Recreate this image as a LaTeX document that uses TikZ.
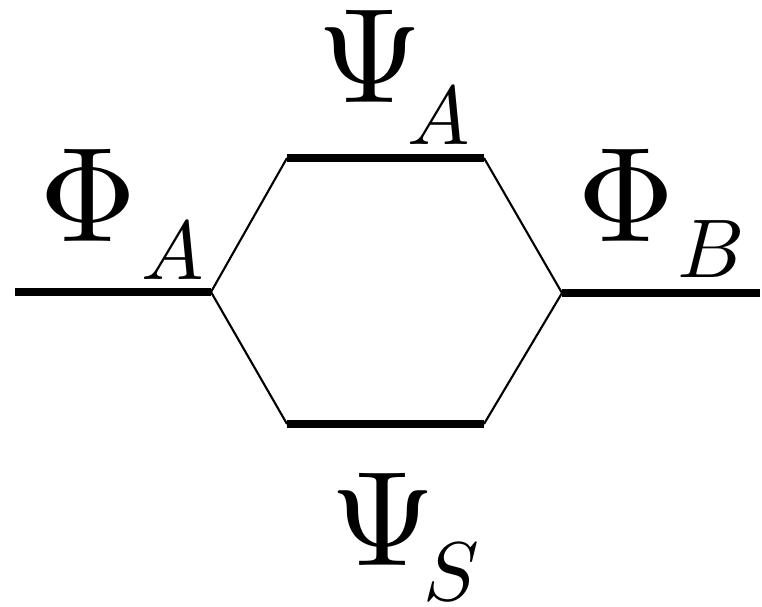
\documentclass[tikz,border=0pt]{standalone}
\usepackage{unicode-math}
\setmathfont{Latin Modern Math}
\usepackage{tikz}
\usetikzlibrary{calc}

\begin{document}
\begin{tikzpicture}[
  x=1cm,y=1cm,
  level/.style={line width=2.3pt},
  link/.style={line width=0.6pt},
  orbname/.style={anchor=base,inner sep=0pt,
                  font=\fontsize{38.4}{40}\selectfont},
  orbsub/.style={anchor=base,inner sep=0pt,
                 font=\fontsize{23.7}{25}\selectfont}
]
\useasboundingbox (0,0) rectangle (7.62,6.06);
% energy levels
\coordinate (phaL) at (0.15,3.14);  \coordinate (phaR) at (2.11,3.14);
\coordinate (psaL) at (2.87,4.48);  \coordinate (psaR) at (4.84,4.48);
\coordinate (phbL) at (5.62,3.13);  \coordinate (phbR) at (7.60,3.13);
\coordinate (pssL) at (2.87,1.82);  \coordinate (pssR) at (4.84,1.82);
\foreach \a/\b in {phaL/phaR,psaL/psaR,phbL/phbR,pssL/pssR}
  \draw[level] (\a)--(\b);
% correlation lines
\draw[link] (phaR)--(psaL);
\draw[link] (phaR)--(pssL);
\draw[link] (psaR)--(phbL);
\draw[link] (pssR)--(phbL);
% labels
\node[orbname] (phia) at (0.88,3.64) {$\Phi$};
\node[orbsub]  (phiasub) at (1.73,3.26) {$A$};
\node[orbname] (psia) at (3.70,5.03) {$\Psi$};
\node[orbsub]  (psiasub) at (4.39,4.61) {$A$};
\node[orbname] (phib) at (6.26,3.64) {$\Phi$};
\node[orbsub]  (phibsub) at (7.10,3.28) {$B$};
\node[orbname] (psis) at (3.83,0.41) {$\Psi$};
\node[orbsub]  (psissub) at (4.52,0.06) {$S$};
\end{tikzpicture}
\end{document}
